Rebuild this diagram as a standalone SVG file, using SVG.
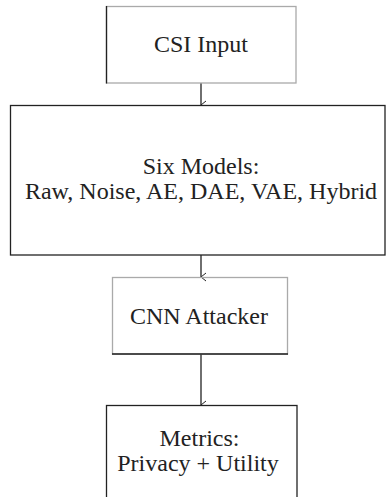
<svg xmlns="http://www.w3.org/2000/svg" width="387" height="497" viewBox="0 0 387 497">
<defs>
<style>
.box{fill:#ffffff;stroke:#222;stroke-width:1.3}
.lt{stroke:#aaa;stroke-width:1.3;fill:none}
.dk{stroke:#222;stroke-width:1.3;fill:none}
.t{font-family:'Liberation Serif','Times New Roman',serif;font-size:24px;fill:#222;text-anchor:middle}
.c{stroke:#222;stroke-width:1.3;fill:none}
</style>
<marker id="ah" viewBox="0 0 10 10" refX="5" refY="9" markerWidth="10" markerHeight="10" markerUnits="userSpaceOnUse" orient="auto">
<path d="M1,4 L5,9 L9,4" fill="none" stroke="#222" stroke-width="1"/>
</marker>
</defs>
<rect width="387" height="497" fill="#fff"/>
<g id="connectors">
<line class="c" x1="201" y1="83" x2="201" y2="105" marker-end="url(#ah)"/>
<line class="c" x1="201" y1="255" x2="201" y2="277" marker-end="url(#ah)"/>
<line class="c" x1="201" y1="354" x2="201" y2="405" stroke-width="2" marker-end="url(#ah)"/>
</g>
<g id="csi-input">
<rect x="106.5" y="6.5" width="189.5" height="76.5" fill="#fff" class="lt"/>
<line class="dk" x1="106.5" y1="6" x2="106.5" y2="83.5"/>
<text class="t" x="201" y="52">CSI Input</text>
</g>
<g id="six-models">
<rect class="box" x="10.5" y="105.5" width="374.5" height="149.5"/>
<text class="t" x="201" y="174">Six Models:</text>
<text class="t" x="201" y="199">Raw, Noise, AE, DAE, VAE, Hybrid</text>
</g>
<g id="cnn-attacker">
<rect x="112.5" y="277.5" width="175" height="76.5" fill="#fff" class="lt"/>
<line class="dk" x1="112" y1="354" x2="288" y2="354"/>
<text class="t" x="199" y="324">CNN Attacker</text>
</g>
<g id="metrics">
<rect class="box" x="106.5" y="405.5" width="190.5" height="100"/>
<text class="t" x="199.5" y="446">Metrics:</text>
<text class="t" x="198" y="471">Privacy + Utility</text>
</g>
</svg>
